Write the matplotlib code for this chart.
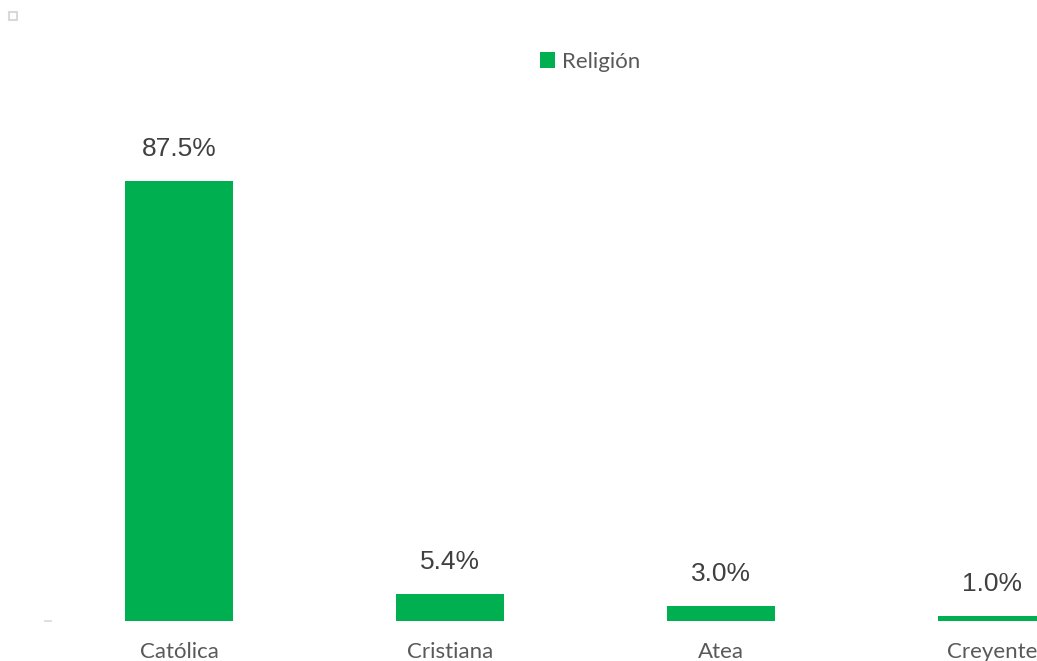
import matplotlib
matplotlib.use("Agg")
import matplotlib.pyplot as plt
from matplotlib.patches import Rectangle

# Data
categories = ["Católica", "Cristiana", "Atea", "Creyente"]
values = [87.5, 5.4, 3.0, 1.0]
series_name = "Religión"

green = "#00B050"
grey_text = "#595959"

fig = plt.figure(figsize=(10.37, 6.61), dpi=100)
W, H = 1037, 661

# axes runs a bit past the right edge, like the original slide crop
left_px, right_px = 43.5, 43.5 + 4 * 271
base_px, top_px = 621, 118
ax = fig.add_axes([left_px / W, (H - base_px) / H,
                   (right_px - left_px) / W, (base_px - top_px) / H])

x = list(range(len(categories)))
bars = ax.bar(x, values, width=0.4, color=green, label=series_name)
ax.set_xlim(-0.5, 3.5)
ax.set_ylim(0, 100)

# value labels
for rect, v in zip(bars, values):
    ax.annotate(f"{v:.1f}%", (rect.get_x() + rect.get_width() / 2, rect.get_height()),
                xytext=(0, 23), textcoords="offset points", ha="center", va="center",
                fontsize=19, color="#404040", family="Liberation Sans")

for s in ax.spines.values():
    s.set_visible(False)
ax.set_xticks(x)
ax.set_xticklabels(categories, fontsize=16, color=grey_text, family="Lato")
ax.tick_params(axis="x", length=0, pad=15)
ax.set_yticks([0])
ax.set_yticklabels([])
ax.tick_params(axis="y", direction="in", length=6, color="#d9d9d9", width=1.2)

leg = fig.legend(loc="center", bbox_to_anchor=(590 / W, 1 - 62 / H), frameon=False,
                 prop={"family": "Lato", "size": 16}, handlelength=0.7, handleheight=0.7,
                 handletextpad=0.3)
for t in leg.get_texts():
    t.set_color(grey_text)

# small marker in the top-left corner
fig.patches.append(Rectangle((9 / W, 1 - 20 / H), 8 / W, 8 / H, transform=fig.transFigure,
                             fill=False, edgecolor="#d9d9d9", linewidth=1.5))

plt.savefig("out.png", dpi=100)
